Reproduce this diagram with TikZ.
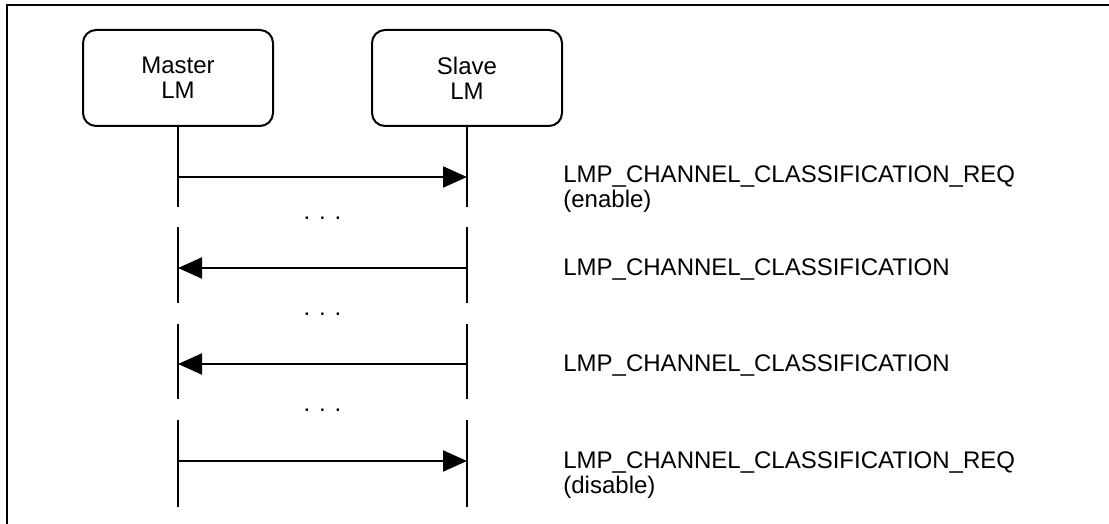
\documentclass[tikz,border=0pt]{standalone}
\usepackage{fontspec}
\setmainfont{Liberation Sans}
\usetikzlibrary{positioning,calc,arrows.meta}

\begin{document}
\begin{tikzpicture}[
                x=0.5pt, y=-0.5pt,
                every node/.style={font=\fontsize{12}{12.5}\selectfont},
                block/.style={rectangle, draw, line width=1pt, rounded corners=6.5pt, minimum width=95pt, minimum height=48pt, align=center, inner sep=0pt},
                lifeline/.style={draw, line width=1pt},
                arrow/.style={draw, line width=1pt, -{Triangle[length=12pt,width=10.5pt]}},
                msg/.style={anchor=base west, align=left, inner sep=0pt}
            ]
            \useasboundingbox (0,0) rectangle (1109,524);
            
            % Frame
            \draw[line width=1pt] (1109,5) -- (7,5) -- (7,524);
            
            % Nodes
            \node [block] (master) at (178,78) {Master\\LM};
            \node [block] (slave) at (467,78) {Slave\\LM};
            
            \coordinate (row1) at (0,177);
            \coordinate (row2) at (0,268);
            \coordinate (row3) at (0,364);
            \coordinate (row4) at (0,461);
            
            \coordinate (cut1a) at (0,207);
            \coordinate (cut1b) at (0,227);
            \coordinate (cut2a) at (0,303);
            \coordinate (cut2b) at (0,324);
            \coordinate (cut3a) at (0,399);
            \coordinate (cut3b) at (0,420);
            \coordinate (lineend) at (0,507);
            
            \node (dots1) at (322.5,218) {. . .};
            \node (dots2) at (322.5,314) {. . .};
            \node (dots3) at (322.5,410) {. . .};
            
            % the base of a two-line msg is its last line
            \node [msg] (req1) at (563,207) {LMP\_CHANNEL\_CLASSIFICATION\_REQ\\(enable)};
            \node [msg] (cls1) at (563,275) {LMP\_CHANNEL\_CLASSIFICATION};
            \node [msg] (cls2) at (563,371) {LMP\_CHANNEL\_CLASSIFICATION};
            \node [msg] (req2) at (563,493) {LMP\_CHANNEL\_CLASSIFICATION\_REQ\\(disable)};
            
            % Lifelines
            \foreach \lm in {master, slave} {
                \draw[lifeline] (\lm.south) -- (\lm |- cut1a);
                \draw[lifeline] (\lm |- cut1b) -- (\lm |- cut2a);
                \draw[lifeline] (\lm |- cut2b) -- (\lm |- cut3a);
                \draw[lifeline] (\lm |- cut3b) -- (\lm |- lineend);
            }
            
            % Arrows
            \draw[arrow] (master |- row1) -- (slave |- row1);
            \draw[arrow] (slave |- row2) -- (master |- row2);
            \draw[arrow] (slave |- row3) -- (master |- row3);
            \draw[arrow] (master |- row4) -- (slave |- row4);
            
            \end{tikzpicture}
\end{document}
